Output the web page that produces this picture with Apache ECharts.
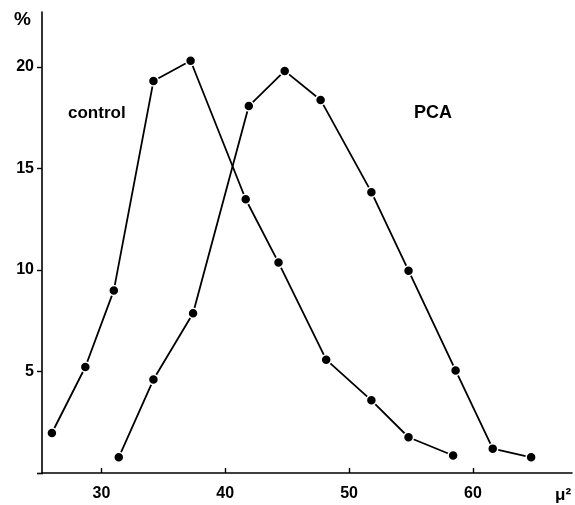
<!DOCTYPE html>
<html>
<head>
<meta charset="utf-8">
<script src="https://cdn.jsdelivr.net/npm/echarts@6/dist/echarts.min.js"></script>
<style>html,body{margin:0;padding:0;background:#fff}#c{width:575px;height:505px}</style>
</head>
<body>
<div id="c"></div>
<script>
const controlX = [26.0, 28.7, 31.0, 34.2, 37.2, 41.65, 44.3, 48.15, 51.8, 54.8, 58.4];
const controlY = [1.97, 5.22, 8.99, 19.3, 20.3, 13.48, 10.36, 5.58, 3.58, 1.76, 0.86];
const pcaX = [31.4, 34.2, 37.4, 41.9, 44.8, 47.7, 51.8, 54.8, 58.6, 61.6, 64.7];
const pcaY = [0.77, 4.6, 7.87, 18.07, 19.8, 18.37, 13.83, 9.96, 5.05, 1.2, 0.77];
const xTicks = [30, 40, 50, 60];
const yTicks = [5, 10, 15, 20];

const font = '"Liberation Sans", Arial, sans-serif';
const pairs = (xs, ys) => xs.map((x, i) => [x, ys[i]]);

const chart = echarts.init(document.getElementById('c'), null, {renderer: 'canvas'});
const seriesStyle = {
  type: 'line',
  symbol: 'circle',
  symbolSize: 10,
  lineStyle: {color: '#000', width: 1.8},
  itemStyle: {color: '#000', borderColor: '#fff', borderWidth: 1.5},
  animation: false,
  z: 3
};
chart.setOption({
  backgroundColor: '#fff',
  animation: false,
  grid: {left: 42, right: 3, top: 12, bottom: 32, containLabel: false},
  xAxis: {
    type: 'value', min: 25.2, max: 68,
    axisLine: {lineStyle: {color: '#000', width: 1.6}},
    axisTick: {show: true, inside: true, length: 5, customValues: xTicks, lineStyle: {color: '#000', width: 1.4}},
    axisLabel: {customValues: xTicks, color: '#000', fontFamily: font, fontWeight: 'bold', fontSize: 16, margin: 13},
    splitLine: {show: false}
  },
  yAxis: {
    type: 'value', min: 0, max: 22.7,
    axisLine: {show: true, lineStyle: {color: '#000', width: 1.6}},
    axisTick: {show: true, inside: false, length: 5, customValues: yTicks, lineStyle: {color: '#000', width: 1.4}},
    axisLabel: {customValues: yTicks, color: '#000', fontFamily: font, fontWeight: 'bold', fontSize: 16, margin: 8},
    splitLine: {show: false}
  },
  graphic: [
    {type: 'line', shape: {x1: 37, y1: 473.5, x2: 43, y2: 473.5}, style: {stroke: '#000', lineWidth: 1.6}},
    {type: 'text', left: 14, top: 10, style: {text: '%', font: 'bold 19px ' + font, fill: '#000'}},
    {type: 'text', left: 555, top: 487, style: {text: 'μ²', font: 'bold 17px ' + font, fill: '#000'}},
    {type: 'text', left: 68, top: 105, style: {text: 'control', font: 'bold 17px ' + font, fill: '#000'}},
    {type: 'text', left: 414, top: 104, style: {text: 'PCA', font: 'bold 18px ' + font, fill: '#000'}}
  ],
  series: [
    Object.assign({name: 'control', data: pairs(controlX, controlY)}, seriesStyle),
    Object.assign({name: 'PCA', data: pairs(pcaX, pcaY)}, seriesStyle)
  ]
});
</script>
</body>
</html>
